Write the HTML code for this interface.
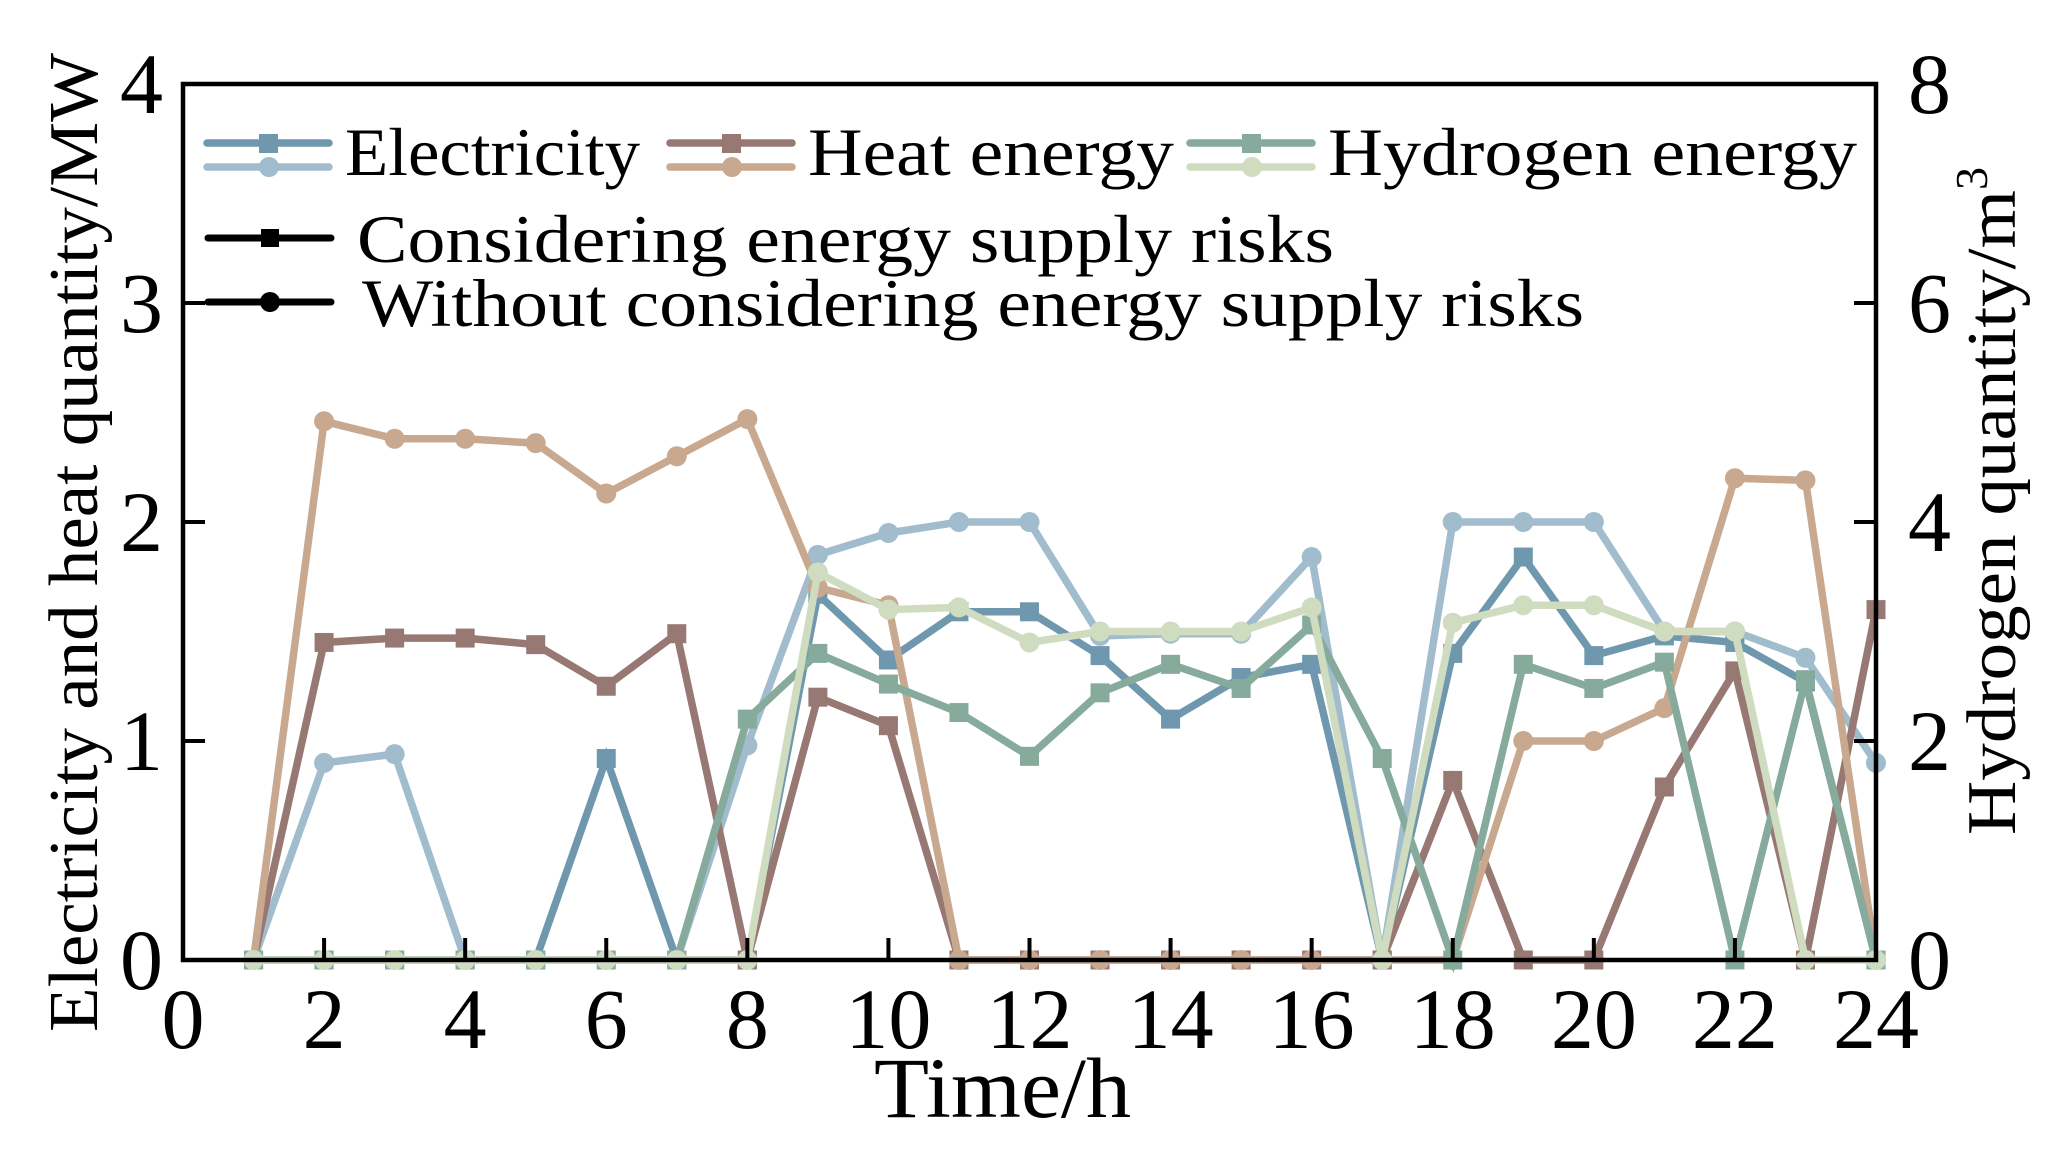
<!DOCTYPE html>
<html><head><meta charset="utf-8"><style>
html,body{margin:0;padding:0;background:#fff;}
svg{display:block;font-family:"Liberation Serif",serif;}
</style></head><body>
<svg id="chart" width="2061" height="1150" viewBox="0 0 2061 1150" xmlns="http://www.w3.org/2000/svg">
<g id="plot"></g>
<g id="axes"></g>
<g id="legend"></g>
</svg>
<script>
const hours = [1,2,3,4,5,6,7,8,9,10,11,12,13,14,15,16,17,18,19,20,21,22,23,24];
const elecCons = [0,0,0,0,0,0.92,0,0,1.67,1.37,1.59,1.59,1.39,1.1,1.29,1.35,0,1.4,1.84,1.39,1.48,1.45,1.27,0];
const elecWithout = [0,0.9,0.94,0,0,0,0,0.98,1.85,1.95,2.0,2.0,1.48,1.49,1.49,1.84,0,2.0,2.0,2.0,1.5,1.5,1.38,0.9];
const heatCons = [0,1.45,1.47,1.47,1.44,1.25,1.49,0,1.2,1.07,0,0,0,0,0,0,0,0.82,0,0,0.79,1.32,0,1.6];
const heatWithout = [0,2.46,2.38,2.38,2.36,2.13,2.3,2.47,1.7,1.62,0,0,0,0,0,0,0,0,1.0,1.0,1.15,2.2,2.19,0];
const hydCons = [0,0,0,0,0,0,0,2.2,2.8,2.52,2.26,1.86,2.44,2.7,2.48,3.06,1.84,0,2.7,2.48,2.72,0,2.56,0];
const hydWithout = [0,0,0,0,0,0,0,0,3.54,3.2,3.22,2.9,3.0,3.0,3.0,3.22,0,3.08,3.24,3.24,3.0,3.0,0,0];
const xTicks = [0,2,4,6,8,10,12,14,16,18,20,22,24];
const yLeftTicks = [0,1,2,3,4];
const yRightTicks = [0,2,4,6,8];

const NS="http://www.w3.org/2000/svg";
const X0=183,X1=1876,Y0=960,Y1=84;
const xs=v=>X0+(v-0)/(24-0)*(X1-X0);
const yl=v=>Y0-(v/4)*(Y0-Y1);
const yr=v=>Y0-(v/8)*(Y0-Y1);
function mk(tag,attrs,parent){const e=document.createElementNS(NS,tag);for(const k in attrs)e.setAttribute(k,attrs[k]);parent.appendChild(e);return e;}
const plot=document.getElementById('plot'),axes=document.getElementById('axes'),legend=document.getElementById('legend');

const series=[
 {name:'electricity-considering',data:elecCons,y:yl,color:'#6f98ae',m:'sq'},
 {name:'electricity-without',data:elecWithout,y:yl,color:'#a0bccd',m:'ci'},
 {name:'heat-considering',data:heatCons,y:yl,color:'#977873',m:'sq'},
 {name:'heat-without',data:heatWithout,y:yl,color:'#c8a88f',m:'ci'},
 {name:'hydrogen-considering',data:hydCons,y:yr,color:'#86ab9c',m:'sq'},
 {name:'hydrogen-without',data:hydWithout,y:yr,color:'#cfdcbf',m:'ci'}
];
series.forEach(s=>{
 const g=mk('g',{},plot);
 
 
 const pts=hours.map((h,i)=>xs(h).toFixed(1)+','+s.y(s.data[i]).toFixed(1)).join(' ');
 const pl=mk('polyline',{points:pts,fill:'none',stroke:s.color,'stroke-width':7.5,'stroke-linejoin':'miter'},g);
 
 
 hours.forEach((h,i)=>{
  const cx=xs(h),cy=s.y(s.data[i]);
  let m;
  if(s.m==='sq') m=mk('rect',{x:cx-9.5,y:cy-9.5,width:19,height:19,fill:s.color},g);
  else m=mk('circle',{cx:cx,cy:cy,r:10,fill:s.color},g);
  
  
 });
});

const fr=mk('rect',{x:X0,y:Y1,width:X1-X0,height:Y0-Y1,fill:'none',stroke:'#000','stroke-width':4.5},axes);


xTicks.forEach(t=>{
 const x=xs(t);
 const l=mk('line',{x1:x,y1:Y0,x2:x,y2:Y0-22,stroke:'#000','stroke-width':4},axes);
 
 
 const tx=mk('text',{x:x,y:1048,'font-size':86,'text-anchor':'middle'},axes);
 tx.textContent=t;
 
 
});
yLeftTicks.forEach(t=>{
 const y=yl(t);
 const l=mk('line',{x1:X0,y1:y,x2:X0+22,y2:y,stroke:'#000','stroke-width':4},axes);
 
 
 const tx=mk('text',{x:163,y:y+29,'font-size':86,'text-anchor':'end'},axes);
 tx.textContent=t;
 
 
});
yRightTicks.forEach(t=>{
 const y=yr(t);
 const l=mk('line',{x1:X1,y1:y,x2:X1-22,y2:y,stroke:'#000','stroke-width':4},axes);
 
 
 const tx=mk('text',{x:1908,y:y+29,'font-size':86,'text-anchor':'start'},axes);
 tx.textContent=t;
 
 
});
const xt=mk('text',{x:874,y:1117,'font-size':86,textLength:257,lengthAdjust:'spacingAndGlyphs'},axes);
xt.textContent='Time/h';


const ylt=mk('text',{x:0,y:0,'font-size':70,textLength:979,lengthAdjust:'spacingAndGlyphs',transform:'translate(97,1032) rotate(-90)'},axes);
ylt.textContent='Electricity and heat quantity/MW';


const yrt=mk('text',{x:0,y:0,'font-size':70,transform:'translate(2015,835) rotate(-90)'},axes);
yrt.innerHTML='<tspan textLength="645" lengthAdjust="spacingAndGlyphs">Hydrogen quantity/m</tspan><tspan dy="-28" font-size="46">3</tspan>';



function legPair(x,c1,c2,label,key,len){
 const g=mk('g',{},legend);
 
 
 mk('line',{x1:x,y1:143,x2:x+122,y2:143,stroke:c1,'stroke-width':7.5,'stroke-linecap':'round'},g);
 mk('rect',{x:x+52,y:134,width:19,height:19,fill:c1},g);
 mk('line',{x1:x,y1:167,x2:x+122,y2:167,stroke:c2,'stroke-width':7.5,'stroke-linecap':'round'},g);
 mk('circle',{cx:x+62,cy:167,r:10,fill:c2},g);
 const t=mk('text',{x:x+138,y:175,'font-size':68,textLength:len,lengthAdjust:'spacingAndGlyphs'},g);
 t.textContent=label;
}
legPair(207,'#6f98ae','#a0bccd','Electricity','electricity',295);
legPair(670,'#977873','#c8a88f','Heat energy','heat',366);
legPair(1190,'#86ab9c','#cfdcbf','Hydrogen energy','hydrogen',529);
function legBlack(y,mark,label,tx,key,len){
 const g=mk('g',{},legend);
 
 
 mk('line',{x1:208,y1:y,x2:331,y2:y,stroke:'#000','stroke-width':7,'stroke-linecap':'round'},g);
 if(mark==='sq') mk('rect',{x:261,y:y-9,width:18,height:18,fill:'#000'},g);
 else mk('circle',{cx:270,cy:y,r:10,fill:'#000'},g);
 const t=mk('text',{x:tx,y:y+24,'font-size':68,textLength:len,lengthAdjust:'spacingAndGlyphs'},g);
 t.textContent=label;
}
legBlack(238,'sq','Considering energy supply risks',357,'considering',977);
legBlack(302,'ci','Without considering energy supply risks',362,'without',1222);
</script>
</body></html>
